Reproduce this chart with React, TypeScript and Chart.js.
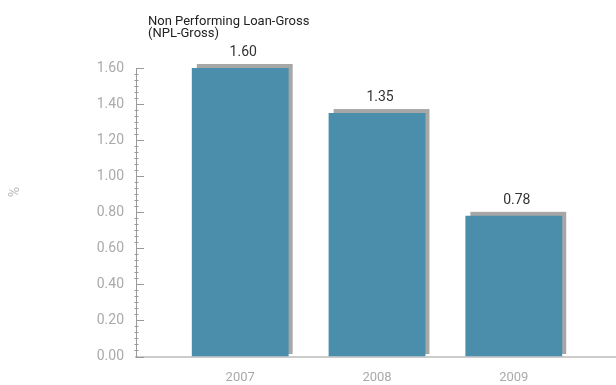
import React, { useEffect, useRef } from "react";
import { Chart, registerables } from "chart.js";

Chart.register(...registerables);

const categories = ["2007", "2008", "2009"];
const nplGross = [1.6, 1.35, 0.78];
const valueLabels = ["1.60", "1.35", "0.78"];
const titleLines = ["Non Performing Loan-Gross", "(NPL-Gross)"];
const yAxisLabel = "%";

const FONT = "Roboto, 'Noto Sans', sans-serif";

const decorPlugin = {
  id: "decor",
  beforeDatasetsDraw(chart: any) {
    const ctx = chart.ctx;
    const meta = chart.getDatasetMeta(0);
    ctx.save();
    ctx.fillStyle = "#a7a7a7";
    meta.data.forEach((bar: any) => {
      const p = bar.getProps(["x", "y", "base", "width"], true);
      const left = p.x - p.width / 2 + 5;
      const top = p.y - 4;
      ctx.fillRect(left, top, p.width - 1, p.base - 2.5 - top);
    });
    ctx.restore();
  },
  afterDatasetsDraw(chart: any) {
    const ctx = chart.ctx;
    const meta = chart.getDatasetMeta(0);
    const y = chart.scales.y;
    const area = chart.chartArea;
    ctx.save();
    // value labels
    ctx.fillStyle = "#333333";
    ctx.font = `14px ${FONT}`;
    ctx.textAlign = "center";
    ctx.textBaseline = "alphabetic";
    meta.data.forEach((bar: any, i: number) => {
      const p = bar.getProps(["x", "y"], true);
      ctx.fillText(valueLabels[i], p.x + 3, p.y - 12);
    });
    // y ticks (major and minor)
    ctx.strokeStyle = "#9a9a9a";
    ctx.lineWidth = 1;
    const x0 = area.left;
    const max = y.max;
    for (let k = 0; k <= Math.round(max / 0.2) * 6; k++) {
      const v = (k * 0.2) / 6;
      const py = Math.round(y.getPixelForValue(v)) + 0.5;
      ctx.beginPath();
      if (k % 6 === 0) {
        ctx.moveTo(x0, py);
        ctx.lineTo(x0 + 8, py);
      } else {
        ctx.moveTo(x0 - 1.5, py);
        ctx.lineTo(x0 + 2.5, py);
      }
      ctx.stroke();
    }
    // title
    ctx.fillStyle = "#222222";
    ctx.font = `13px ${FONT}`;
    ctx.textAlign = "left";
    titleLines.forEach((t, i) => ctx.fillText(t, 148, 25 + i * 12));
    // axis label
    ctx.fillStyle = "#bbbbbb";
    ctx.font = `14px ${FONT}`;
    ctx.translate(15, 192);
    ctx.rotate(-Math.PI / 2);
    ctx.textAlign = "center";
    ctx.textBaseline = "middle";
    ctx.fillText(yAxisLabel, 0, 0);
    ctx.restore();
  },
};

export default function App() {
  const ref = useRef<HTMLCanvasElement>(null);
  useEffect(() => {
    if (!ref.current) return;
    const chart = new Chart(ref.current, {
      type: "bar",
      data: {
        datasets: [
          {
            data: nplGross.map((v, i) => ({ x: i, y: v })),
            backgroundColor: "#4a8eac",
            barPercentage: 0.708,
            categoryPercentage: 1,
          },
        ],
      },
      options: {
        responsive: false,
        animation: false,
        layout: { padding: { top: 68, right: 0, bottom: 0, left: 0 } },
        plugins: { legend: { display: false }, tooltip: { enabled: false }, title: { display: false } },
        scales: {
          x: {
            type: "linear",
            offset: false,
            min: -0.762,
            max: 2.747,
            afterFit: (s: any) => {
              s.height = 28.5;
            },
            grid: { display: false, drawTicks: false },
            border: { display: true, color: "#cccccc", width: 2 },
            ticks: {
              stepSize: 1,
              includeBounds: false,
              autoSkip: false,
              maxRotation: 0,
              padding: 13,
              color: "#aaaaaa",
              font: { family: FONT, size: 13 },
              callback: (v: any) => (Number.isInteger(v) && categories[v] !== undefined ? categories[v] : ""),
            },
          },
          y: {
            min: 0,
            max: 1.6,
            afterFit: (s: any) => {
              s.width = 136;
            },
            grid: { display: false, drawTicks: false },
            border: { display: true, color: "#9a9a9a", width: 1 },
            ticks: {
              stepSize: 0.2,
              padding: 12,
              color: "#aaaaaa",
              font: { family: FONT, size: 14 },
              callback: (v: any) => Number(v).toFixed(2),
            },
          },
        },
      },
      plugins: [decorPlugin],
    });
    return () => chart.destroy();
  }, []);
  return (
    <div style={{ position: "fixed", left: 0, top: 0, width: 616, height: 385, background: "#fff" }}>
      <canvas ref={ref} width={616} height={385} />
    </div>
  );
}
